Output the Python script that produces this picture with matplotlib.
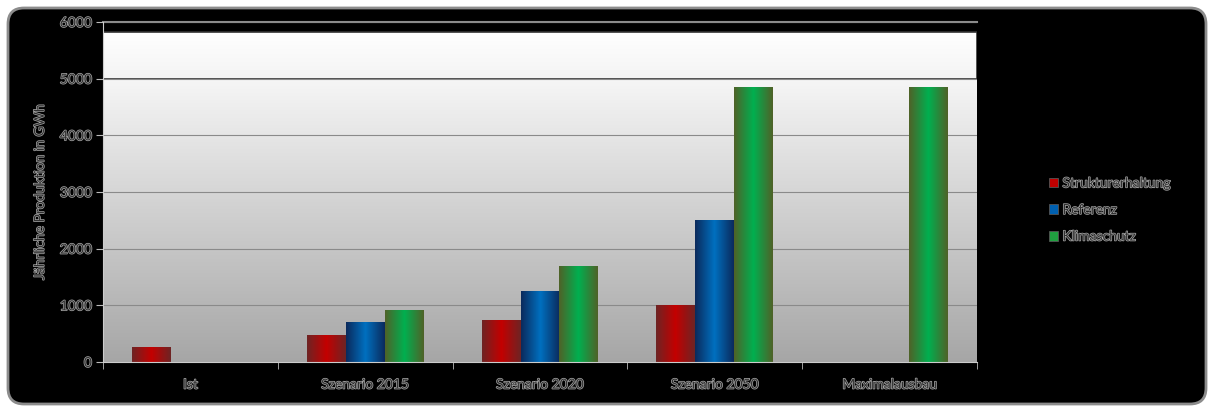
import numpy as np
import matplotlib.pyplot as plt
import matplotlib.patheffects as pe
from matplotlib.patches import FancyBboxPatch, Rectangle, Patch
from matplotlib.colors import LinearSegmentedColormap

kategorien = ["Ist", "Szenario 2015", "Szenario 2020", "Szenario 2050", "Maximalausbau"]
serien = ["Strukturerhaltung", "Referenz", "Klimaschutz"]
strukturerhaltung = [270, 480, 740, 1000, 0]
referenz = [0, 700, 1250, 2500, 0]
klimaschutz = [0, 920, 1700, 4850, 4850]
werte = [strukturerhaltung, referenz, klimaschutz]
y_ticks = [0, 1000, 2000, 3000, 4000, 5000, 6000]

# Farbverlauf der Saeulen: Rand dunkel, Mitte hell
verlauf = [("#6e2424", "#c40000"), ("#0b2a5c", "#0070c0"), ("#4f6228", "#00b050")]
legende_farben = ["#c00000", "#0060b0", "#20a040"]

plt.rcParams["font.family"] = ["Lato", "DejaVu Sans"]
txt_fx = [pe.withStroke(linewidth=1.0, foreground="#a8a8a8")]
txt_col = "#303030"

fig = plt.figure(figsize=(12.14, 4.12), dpi=100, facecolor="white")
# abgerundeter schwarzer Rahmen (in Pixeln)
rahmen = FancyBboxPatch((8, 8), 1198, 396, boxstyle="round,pad=0,rounding_size=16",
                        transform=None, facecolor="black",
                        edgecolor="#8c8c8c", linewidth=2.0, zorder=-5)
fig.patches.append(rahmen)

ax = fig.add_axes([103 / 1214, 1 - 362 / 412, 874 / 1214, 340 / 412])
ax.set_xlim(-0.5, 4.5)
ax.set_ylim(0, 6000)
ax.set_facecolor("black")

# Hintergrund der Zeichenflaeche
hg = LinearSegmentedColormap.from_list("hg", ["#a6a6a6", "#f6f6f6"])
ax.imshow(np.linspace(0, 1, 256).reshape(-1, 1), cmap=hg, aspect="auto",
          extent=(-0.5, 4.5, 0, 5000), origin="lower", zorder=0.1)
wb = LinearSegmentedColormap.from_list("wb", ["#f4f4f4", "#ffffff"])
ax.imshow(np.linspace(0, 1, 64).reshape(-1, 1), cmap=wb, aspect="auto",
          extent=(-0.5, 4.5, 5000, 5820), origin="lower", zorder=0.2)
ax.add_patch(Rectangle((-0.5, 5000), 5, 820, facecolor="none", edgecolor="#333333",
                       linewidth=1.2, zorder=0.3))
ax.axhline(6000, color="#8c8c8c", linewidth=1.5, zorder=0.3, clip_on=False)

ax.yaxis.grid(True, color="#8a8a8a", linewidth=0.8)
ax.set_axisbelow(True)

x = np.arange(len(kategorien))
breite = 0.223
for j, vals in enumerate(werte):
    cm = LinearSegmentedColormap.from_list("b%d" % j, [verlauf[j][0], verlauf[j][1], verlauf[j][0]])
    bars = ax.bar(x + (j - 1) * breite, vals, breite, color="none", zorder=2)
    for b in bars:
        if b.get_height() <= 0:
            continue
        x0, w, h = b.get_x(), b.get_width(), b.get_height()
        im = ax.imshow(np.linspace(0, 1, 128).reshape(1, -1), cmap=cm, aspect="auto",
                       extent=(x0, x0 + w, 0, h), zorder=2)
        im.set_clip_path(b)

ax.set_xticks(x)
ax.set_xticklabels(kategorien)
ax.set_xticks(np.arange(-0.5, 5, 1), minor=True)
ax.tick_params(axis="x", which="major", length=0, pad=12)
ax.tick_params(axis="x", which="minor", length=5, color="#bbbbbb", direction="out")
ax.set_yticks(y_ticks)
ax.tick_params(axis="y", length=5, color="#bbbbbb", direction="out", pad=3)
for t in ax.get_xticklabels() + ax.get_yticklabels():
    t.set_color(txt_col)
    t.set_fontsize(10)
    t.set_path_effects(txt_fx)

for s in ["top", "right"]:
    ax.spines[s].set_visible(False)
ax.spines["left"].set_color("#cccccc")
ax.spines["bottom"].set_color("#cccccc")

ax.set_ylabel("Jährliche Produktion in GWh", fontsize=10, color=txt_col,
              path_effects=txt_fx, labelpad=10)

handles = [Patch(facecolor=legende_farben[j], edgecolor="#555555", linewidth=0.6)
           for j in range(3)]
leg = fig.legend(handles, serien, loc="center left", bbox_to_anchor=(1036 / 1214, 1 - 210 / 412),
                 frameon=False, fontsize=10, handlelength=0.7, handleheight=0.7,
                 handletextpad=0.3, labelspacing=1.05)
for t in leg.get_texts():
    t.set_color(txt_col)
    t.set_path_effects(txt_fx)

fig.savefig("out.png", dpi=100, facecolor="white")
